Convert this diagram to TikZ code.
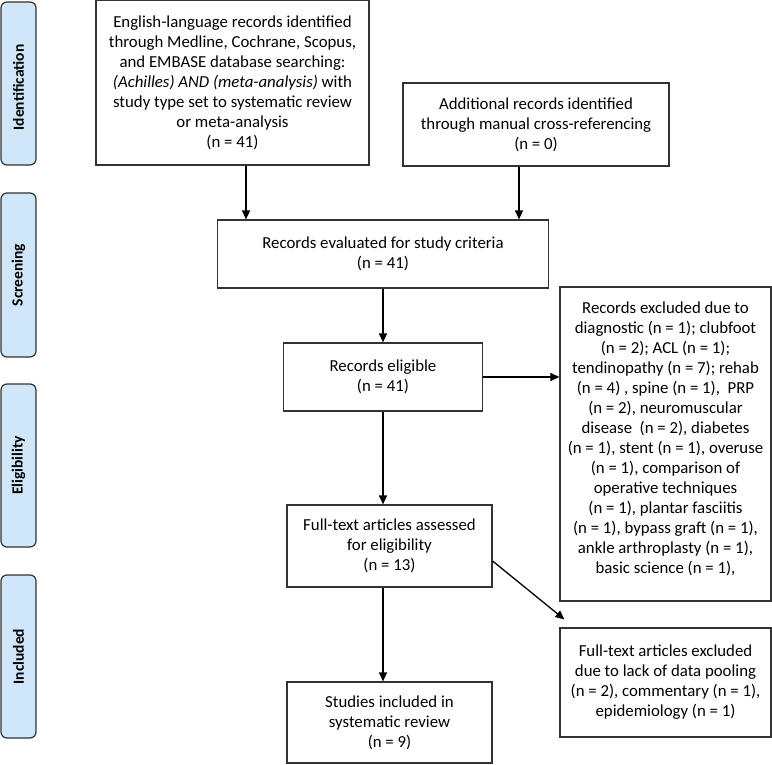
\documentclass[tikz,border=0pt]{standalone}
\usepackage{fontspec}
\setmainfont{Carlito}
\usetikzlibrary{arrows.meta,calc}
\definecolor{sidefill}{HTML}{CFE7F8}
\definecolor{boxline}{HTML}{333333}
\tikzset{
  boxfont/.style={font=\fontsize{16.8}{20}\selectfont},
  box/.style={draw=boxline, line width=1.2pt, fill=white, align=center, inner sep=2pt, boxfont},
  side/.style={draw=boxline, line width=1.2pt, fill=sidefill, rounded corners=6pt,
    minimum width=35pt, anchor=center},
  sidelabel/.style={rotate=90, font=\fontsize{15.5}{18}\selectfont\bfseries},
  arr/.style={line width=1.3pt, -{Triangle[length=9pt,width=8pt]}}
}
\begin{document}
\begin{tikzpicture}[x=1pt,y=-1pt]
\useasboundingbox (0,0) rectangle (772,764);
\fill[white] (0,0) rectangle (772,764);

% side bars
\node[side, minimum height=163pt] (sid) at (18.5,83.5) {};
\node[sidelabel] (lid) at ([yshift=-4pt]sid.center) {Identification};
\node[side, minimum height=164pt] (ssc) at (18.5,275) {};
\node[sidelabel] (lsc) at (ssc.center) {Screening};
\node[side, minimum height=163pt] (sel) at (18.5,465.5) {};
\node[sidelabel] (lel) at (sel.center) {Eligibility};
\node[side, minimum height=163pt] (sin) at (18.5,656.5) {};
\node[sidelabel] (lin) at (sin.center) {Included};

% boxes
\node[box, minimum width=273pt, minimum height=165pt] (A) at (232.5,82.5)
  {English-language records identified\\through Medline, Cochrane, Scopus,\\and EMBASE database searching:\\\textit{(Achilles) AND (meta-analysis)} with\\study type set to systematic review\\or meta-analysis\\(n = 41)};
\node[box, minimum width=266pt, minimum height=83pt] (B) at (536,124.5)
  {Additional records identified\\through manual cross-referencing\\(n = 0)};
\node[box, minimum width=331pt, minimum height=68pt] (C) at (383,254)
  {Records evaluated for study criteria\\(n = 41)};
\node[box, minimum width=199pt, minimum height=68pt] (D) at (383,377)
  {Records eligible\\(n = 41)};
\node[box, minimum width=205pt, minimum height=82pt] (E) at (389.5,546)
  {Full-text articles assessed\\for eligibility\\(n = 13)};
\node[box, minimum width=205pt, minimum height=81pt] (F) at (389.5,722.5)
  {Studies included in\\systematic review\\(n = 9)};
\node[box, minimum width=211pt, minimum height=314pt] (G) at (665.5,444) {};
\node[boxfont, align=center] (Gt) at (665.5,439)
  {Records excluded due to\\diagnostic (n = 1); clubfoot\\(n = 2); ACL (n = 1);\\tendinopathy (n = 7); rehab\\(n = 4) , spine (n = 1),\ \ PRP\\(n = 2), neuromuscular\\disease\ \ (n = 2), diabetes\\(n = 1), stent (n = 1), overuse\\(n = 1), comparison of\\operative techniques\\(n = 1), plantar fasciitis\\(n = 1), bypass graft (n = 1),\\ankle arthroplasty (n = 1),\\basic science (n = 1),};
\node[box, minimum width=211pt, minimum height=109pt] (H) at (665.5,682.5)
  {Full-text articles excluded\\due to lack of data pooling\\(n = 2), commentary (n = 1),\\epidemiology (n = 1)};

% connectors
\draw[arr] ([xshift=13.5pt]A.south) -- ([xshift=13.5pt]A.south |- C.north);
\draw[arr] ([xshift=-17pt]B.south) -- ([xshift=-17pt]B.south |- C.north);
\draw[arr] (C.south) -- (C.south |- D.north);
\draw[arr] (D.south) -- (D.south |- E.north);
\draw[arr] (D.east) -- (D.east -| G.west);
\draw[arr] ([xshift=-6.5pt]E.south) -- ([xshift=-6.5pt]E.south |- F.north);
\coordinate (Hin) at ($(H.north west)+(5,-8)$);
\draw[arr] ([yshift=-15pt]E.east) -- (Hin);
\end{tikzpicture}
\end{document}
